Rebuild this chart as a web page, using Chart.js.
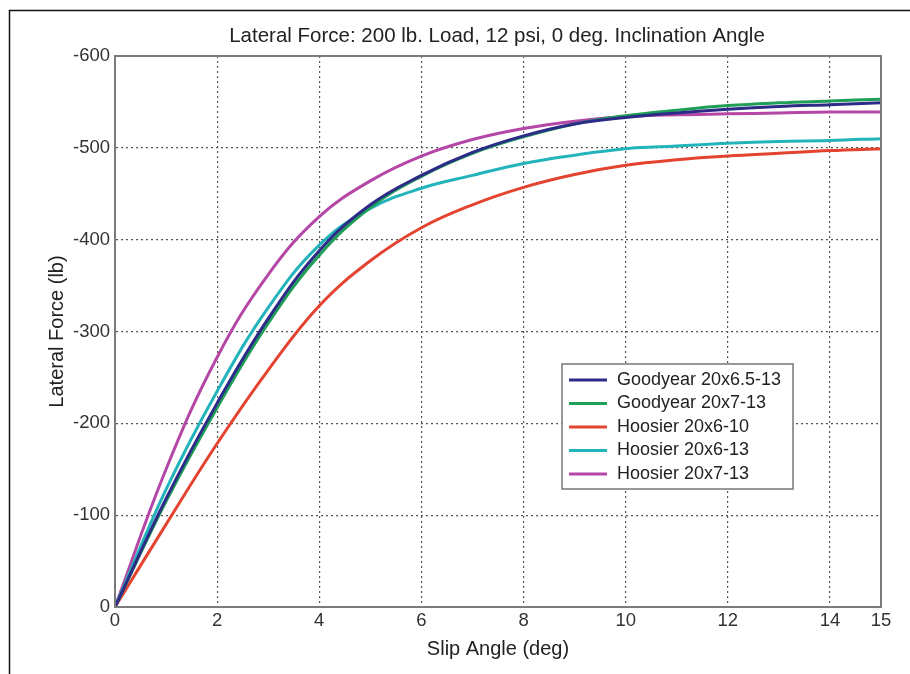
<!DOCTYPE html>
<html>
<head>
<meta charset="utf-8">
<script src="https://cdn.jsdelivr.net/npm/chart.js@4.4.1/dist/chart.umd.min.js"></script>
<style>
  html, body { margin: 0; padding: 0; background: #fff; }
  canvas { display: block; }
</style>
</head>
<body>
<canvas id="chart" width="910" height="674"></canvas>
<script>
// slip angle (deg)
const slipAngle = [0, 1, 2, 3, 4, 5, 6, 7, 8, 9, 10, 11, 12, 13, 14, 15];

// lateral force (lb)
const goodyear65 = [0, -118, -222, -314, -388, -438, -470, -495, -513, -526, -533, -538, -542, -545, -547, -549];
const goodyear7 = [0, -115, -217, -309, -383, -435, -469, -494, -512, -526, -535, -541, -546, -549, -551, -553];
const hoosier610 = [0, -90, -178, -258, -328, -377, -413, -438, -457, -471, -481, -487, -491, -494, -497, -499];
const hoosier613 = [0, -128, -235, -326, -394, -434, -456, -470, -483, -492, -499, -502, -505, -507, -508, -510];
const hoosier713 = [0, -150, -272, -362, -425, -464, -491, -509, -521, -529, -534, -536, -537, -538, -539, -539];

const seriesNames = ["Goodyear 20x6.5-13", "Goodyear 20x7-13", "Hoosier 20x6-10", "Hoosier 20x6-13", "Hoosier 20x7-13"];
const seriesColors = ["#2d2b88", "#1f9e57", "#e4432f", "#23b4bb", "#b447a6"];
const seriesData = [goodyear65, goodyear7, hoosier610, hoosier613, hoosier713];

const xTicks = [0, 2, 4, 6, 8, 10, 12, 14, 15];

const FONT = "'Liberation Sans', Arial, sans-serif";

// frame, title and in-plot legend
const decor = {
  id: "decor",
  beforeDraw(chart) {
    const ctx = chart.ctx;
    ctx.save();
    ctx.fillStyle = "#fff";
    ctx.fillRect(0, 0, chart.width, chart.height);
    ctx.strokeStyle = "#111";
    ctx.lineWidth = 1.5;
    ctx.beginPath();
    ctx.moveTo(9.5, chart.height);
    ctx.lineTo(9.5, 10.5);
    ctx.lineTo(chart.width, 10.5);
    ctx.stroke();
    ctx.fillStyle = "#222";
    ctx.font = "20.5px " + FONT;
    ctx.textAlign = "center";
    ctx.textBaseline = "middle";
    ctx.fillText("Lateral Force: 200 lb. Load, 12 psi, 0 deg. Inclination Angle", 497, 36);
    ctx.restore();
  },
  afterDatasetsDraw(chart) {
    const ctx = chart.ctx;
    const a = chart.chartArea;
    ctx.save();
    // plot box
    ctx.strokeStyle = "#7a7a7a";
    ctx.lineWidth = 2;
    ctx.strokeRect(a.left, a.top, a.right - a.left, a.bottom - a.top);

    // legend
    const lx = a.left + 447, ly = a.top + 308, lw = 231, lh = 125;
    ctx.fillStyle = "#fff";
    ctx.fillRect(lx, ly, lw, lh);
    ctx.strokeStyle = "#777";
    ctx.lineWidth = 1.5;
    ctx.strokeRect(lx, ly, lw, lh);
    ctx.font = "18px " + FONT;
    ctx.textAlign = "left";
    ctx.textBaseline = "middle";
    chart.data.datasets.forEach((ds, i) => {
      const y = ly + 16 + i * 23.5;
      ctx.strokeStyle = ds.borderColor;
      ctx.lineWidth = 3;
      ctx.beginPath();
      ctx.moveTo(lx + 7, y);
      ctx.lineTo(lx + 45, y);
      ctx.stroke();
      ctx.fillStyle = "#222";
      ctx.fillText(ds.label, lx + 55, y);
    });
    ctx.restore();
  }
};

new Chart(document.getElementById("chart"), {
  type: "line",
  data: {
    datasets: seriesNames.map((name, i) => ({
      label: name,
      data: slipAngle.map((x, j) => ({ x: x, y: seriesData[i][j] })),
      borderColor: seriesColors[i],
      backgroundColor: seriesColors[i],
      borderWidth: 3,
      pointRadius: 0,
      tension: 0.4,
      fill: false
    }))
  },
  options: {
    responsive: false,
    animation: false,
    devicePixelRatio: 1,
    layout: { padding: { left: 45, top: 56, right: 29, bottom: 13 } },
    plugins: {
      legend: { display: false },
      tooltip: { enabled: false },
      title: { display: false }
    },
    scales: {
      x: {
        type: "linear",
        min: 0,
        max: 15,
        afterBuildTicks(scale) {
          scale.ticks = xTicks.map(v => ({ value: v }));
        },
        afterFit(scale) { scale.height = 54; },
        grid: {
          color: "#555",
          lineWidth: 1.2,
          drawTicks: false
        },
        border: { display: true, color: "#7a7a7a", width: 2, dash: [2, 3] },
        ticks: {
          color: "#333",
          font: { family: FONT, size: 18.5 },
          padding: 3,
          maxRotation: 0,
          autoSkip: false
        },
        title: {
          display: true,
          text: "Slip Angle (deg)",
          color: "#222",
          font: { family: FONT, size: 20 },
          padding: { top: 0, bottom: 0 }
        }
      },
      y: {
        min: -600,
        max: 0,
        reverse: true,
        afterFit(scale) { scale.width = 70; },
        grid: {
          color: "#555",
          lineWidth: 1.2,
          drawTicks: false
        },
        border: { display: true, color: "#7a7a7a", width: 2, dash: [2, 3] },
        ticks: {
          stepSize: 100,
          color: "#333",
          font: { family: FONT, size: 18.5 },
          padding: 5
        },
        title: {
          display: true,
          text: "Lateral Force (lb)",
          color: "#222",
          font: { family: FONT, size: 20 },
          padding: { top: 0, bottom: 0 }
        }
      }
    }
  },
  plugins: [decor]
});
</script>
</body>
</html>
